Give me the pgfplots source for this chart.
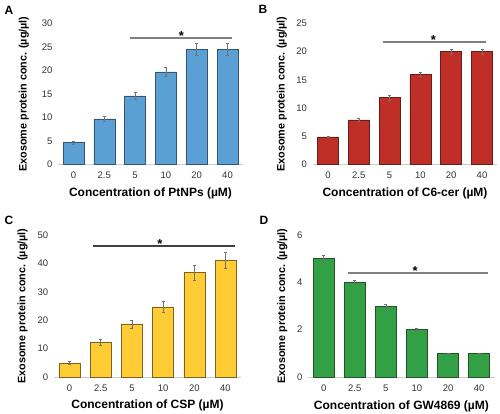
\documentclass[border=0pt]{standalone}
\usepackage{fontspec}
\setmainfont{Liberation Sans}
\usepackage{pgfplots}
\usepackage{pgfplotstable}
\pgfplotsset{compat=1.18}
\definecolor{cblue}{RGB}{91,160,212}
\definecolor{cblueE}{RGB}{55,85,110}
\definecolor{cred}{RGB}{192,46,40}
\definecolor{credE}{RGB}{100,30,25}
\definecolor{cyel}{RGB}{255,204,52}
\definecolor{cyelE}{RGB}{125,98,40}
\definecolor{cgrn}{RGB}{52,160,70}
\definecolor{cgrnE}{RGB}{35,85,40}
\pgfplotstableread{
x y e
0 4.7 0.3
1 9.7 0.5
2 14.6 0.7
3 19.7 1.0
4 24.5 1.3
5 24.5 1.3
}\dataA
\pgfplotstableread{
x y e
0 4.9 0.15
1 7.9 0.3
2 11.9 0.45
3 16.0 0.4
4 20.0 0.5
5 20.0 0.5
}\dataB
\pgfplotstableread{
x y e
0 5.0 0.4
1 12.3 1.0
2 18.6 1.5
3 24.7 1.8
4 36.8 2.6
5 41.0 2.8
}\dataC
\pgfplotstableread{
x y e
0 5.0 0.15
1 4.0 0.08
2 3.0 0.08
3 2.0 0.05
4 1.0 0
5 1.0 0
}\dataD
\tikzset{sigstar/.style={font=\fontsize{13}{14}\selectfont\bfseries, anchor=south, inner sep=0pt, yshift=-3pt}}
\pgfplotsset{
  panel/.style={
    scale only axis, anchor=south west, clip=false,
    xmin=-0.5, xmax=5.5, ymin=0,
    xtick={0,...,5}, xticklabels={0,2.5,5,10,20,40},
    axis lines=left, axis line style={-},
    x axis line style={draw=black!20, line width=0.8pt},
    y axis line style={draw=none},
    tick style={draw=none},
    ticklabel style={font=\fontsize{9.5}{11}\selectfont, text=black!80},
    /pgf/number format/assume math mode=true,
    xticklabel style={yshift=-2pt},
    xlabel style={font=\fontsize{12}{14}\selectfont\bfseries, at={(axis description cs:0.5,0)}, anchor=center},
    ylabel style={font=\fontsize{10.8}{12}\selectfont\bfseries, anchor=center},
    ylabel={Exosome protein conc. (µg/µl)},
  },
  bars/.style={ybar, bar width=21pt, line width=0.6pt,
    error bars/y dir=both, error bars/y explicit,
    error bars/error bar style={black!55, line width=0.6pt},
    error bars/error mark options={rotate=90, mark size=1.5pt, black!55, line width=0.5pt}},
  sig/.style={line width=1.9pt, no marks},
}
\begin{document}
\begin{tikzpicture}
\useasboundingbox (0pt,0pt) rectangle (500pt,413pt);
% Panel A
\begin{axis}[panel, at={(58.1pt,248.5pt)}, width=184.8pt, height=141pt,
  ymax=30, ytick={0,5,...,30},
  xlabel={Concentration of PtNPs (µM)}, xlabel style={yshift=-28.5pt},
  ylabel style={at={(axis description cs:-0.185,0.5)}}]
\addplot[bars, fill=cblue, draw=cblueE] table[x=x,y=y,y error=e]{\dataA};
\addplot[sig, black!50] coordinates {(1.85,26.9) (5.15,26.9)};
\node[sigstar] at (axis cs:3.5,26.9) {*};
\end{axis}
% Panel B
\begin{axis}[panel, at={(312.6pt,248.5pt)}, width=184.8pt, height=141pt,
  ymax=25, ytick={0,5,...,25},
  xlabel={Concentration of C6-cer (µM)}, xlabel style={yshift=-28.5pt},
  ylabel style={at={(axis description cs:-0.167,0.5)}}]
\addplot[bars, fill=cred, draw=credE] table[x=x,y=y,y error=e]{\dataB};
\addplot[sig, black!50] coordinates {(1.79,21.7) (5.13,21.7)};
\node[sigstar] at (axis cs:3.42,21.7) {*};
\end{axis}
% Panel C
\begin{axis}[panel, at={(53.9pt,36pt)}, width=187.2pt, height=142pt,
  ymax=50, ytick={0,10,...,50},
  xlabel={Concentration of CSP (µM)}, xlabel style={yshift=-28pt},
  ylabel style={at={(axis description cs:-0.167,0.5)}}]
\addplot[bars, fill=cyel, draw=cyelE] table[x=x,y=y,y error=e]{\dataC};
\addplot[sig, black!75, line width=1.2pt] coordinates {(0.75,46.1) (5.3,46.1)};
\node[sigstar] at (axis cs:2.9,46.1) {*};
\end{axis}
% Panel D
\begin{axis}[panel, at={(308.1pt,36pt)}, width=186.6pt, height=142pt,
  ymax=6, ytick={0,2,...,6},
  xlabel={Concentration of GW4869 (µM)}, xlabel style={yshift=-29.5pt},
  ylabel style={at={(axis description cs:-0.138,0.5)}}]
\addplot[bars, fill=cgrn, draw=cgrnE] table[x=x,y=y,y error=e]{\dataD};
\addplot[sig, black!50] coordinates {(0.78,4.41) (5.3,4.41)};
\node[sigstar] at (axis cs:2.94,4.41) {*};
\end{axis}
\node[font=\fontsize{12}{14}\selectfont\bfseries] at (9pt,403pt) {A};
\node[font=\fontsize{12}{14}\selectfont\bfseries] at (263pt,404pt) {B};
\node[font=\fontsize{12}{14}\selectfont\bfseries] at (9pt,193pt) {C};
\node[font=\fontsize{12}{14}\selectfont\bfseries] at (264pt,193pt) {D};
\end{tikzpicture}
\end{document}
